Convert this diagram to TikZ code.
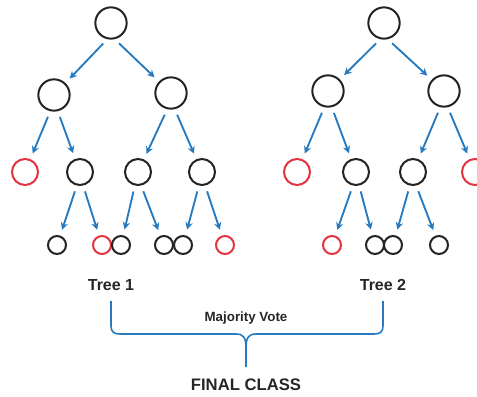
\documentclass[tikz,border=0pt]{standalone}
\usepackage{fontspec}
\setmainfont{Liberation Sans}
\usetikzlibrary{arrows.meta}
\definecolor{arrblue}{RGB}{38,122,192}
\definecolor{nodered}{RGB}{226,52,64}
\definecolor{nodeblack}{RGB}{35,35,35}
\tikzset{
  bignode/.style={circle,draw=nodeblack,line width=1.5pt,minimum size=23.5pt,inner sep=0pt},
  midnode/.style={circle,draw=nodeblack,line width=1.5pt,minimum size=19.5pt,inner sep=0pt},
  midred/.style={midnode,draw=nodered},
  leafnode/.style={circle,draw=nodeblack,line width=1.5pt,minimum size=13.5pt,inner sep=0pt},
  leafred/.style={leafnode,draw=nodered},
  edge/.style={draw=arrblue,line width=1.4pt,-{Stealth[length=5.5pt,width=5.5pt]},shorten <=4.5pt,shorten >=4.5pt},
  lbl/.style={font=\bfseries\fontsize{12}{14}\selectfont,text=black!85},
}
\begin{document}
\begin{tikzpicture}[x=0.75pt,y=-0.75pt]
\useasboundingbox (0,0) rectangle (477,396);
\clip (0,0) rectangle (477,396);
% Tree 1
\node[bignode] (a) at (111,23) {};
\node[bignode] (a1) at (54,95) {};
\node[bignode] (a2) at (171,93) {};
\node[midred] (a11) at (25,172) {};
\node[midnode] (a12) at (80,172) {};
\node[midnode] (a21) at (138,172) {};
\node[midnode] (a22) at (202,172) {};
\node[leafnode] (a121) at (57,245) {};
\node[leafred] (a122) at (102,245) {};
\node[leafnode] (a211) at (121,245) {};
\node[leafnode] (a212) at (164,245) {};
\node[leafnode] (a221) at (183,245) {};
\node[leafred] (a222) at (225,245) {};
\foreach \p/\c in {a/a1,a1/a11,a2/a21,a12/a121,a21/a211,a22/a221}
  \draw[edge] (\p.257) -- (\c);
\foreach \p/\c in {a/a2,a1/a12,a2/a22,a12/a122,a21/a212,a22/a222}
  \draw[edge] (\p.283) -- (\c);
% Tree 2
\node[bignode] (b) at (384,23) {};
\node[bignode] (b1) at (328,91) {};
\node[bignode] (b2) at (444,91) {};
\node[midred] (b11) at (297,172) {};
\node[midnode] (b12) at (356,172) {};
\node[midnode] (b21) at (413,172) {};
\node[midred] (b22) at (475,172) {};
\node[leafred] (b121) at (332,245) {};
\node[leafnode] (b122) at (375,245) {};
\node[leafnode] (b211) at (393,245) {};
\node[leafnode] (b212) at (439,245) {};
\foreach \p/\c in {b/b1,b1/b11,b2/b21,b12/b121,b21/b211}
  \draw[edge] (\p.257) -- (\c);
\foreach \p/\c in {b/b2,b1/b12,b2/b22,b12/b122,b21/b212}
  \draw[edge] (\p.283) -- (\c);
% Labels
\node[lbl] (t1) at (111,285) {Tree 1};
\node[lbl] (t2) at (383,285) {Tree 2};
\node[font=\bfseries\fontsize{10}{12}\selectfont,text=black!85] (mv) at (246,318) {Majority Vote};
\node[lbl,font=\bfseries\fontsize{12.5}{15}\selectfont] (fc) at (246,385) {FINAL CLASS};
% Brace
\coordinate (bl) at (111,301);
\coordinate (br) at (383,301);
\coordinate (tip) at (246,367);
\draw[arrblue,line width=1.2pt]
  (bl) -- (111,326) .. controls (111,332) and (114,334) .. (120,334)
  -- (236,334) .. controls (243,334) and (246,337) .. (246,348) -- (tip);
\draw[arrblue,line width=1.2pt]
  (br) -- (383,326) .. controls (383,332) and (380,334) .. (374,334)
  -- (256,334) .. controls (249,334) and (246,337) .. (246,348);
\end{tikzpicture}
\end{document}
